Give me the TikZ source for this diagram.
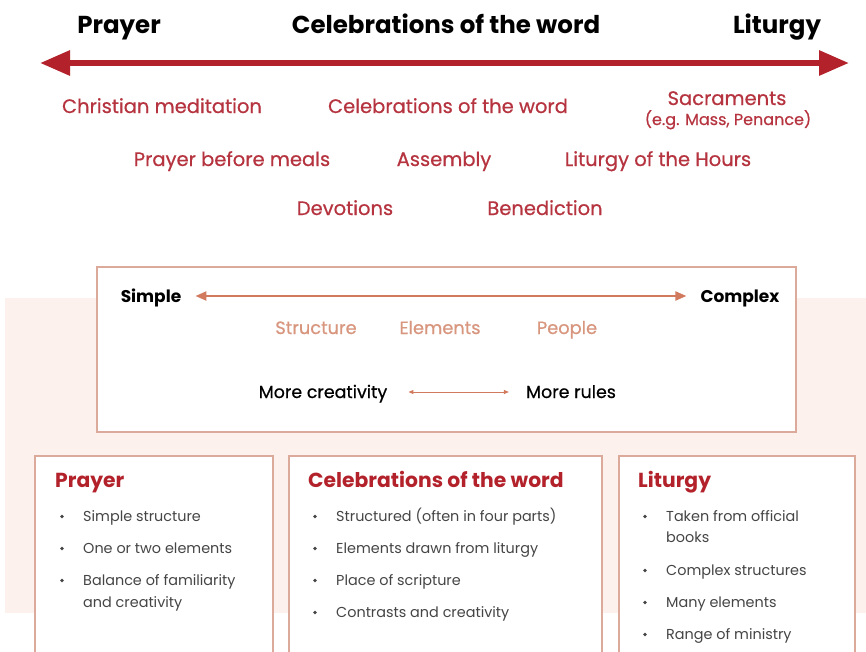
\documentclass[tikz,border=0pt]{standalone}
\usepackage{fontspec}
\setmainfont{Poppins}
\newfontfamily\popmedium[FakeBold=0.6]{Poppins}
\usetikzlibrary{arrows.meta,positioning}
\definecolor{deepred}{HTML}{B3222B}
\definecolor{itemred}{HTML}{B5343F}
\definecolor{salmon}{HTML}{D27A5E}
\definecolor{palesalmon}{HTML}{D8967E}
\definecolor{boxline}{HTML}{DCAA9A}
\definecolor{band}{HTML}{FDF1EE}
\definecolor{bodygray}{HTML}{454545}
\tikzset{%
  heading/.style={font=\bfseries\fontsize{24.5}{28}\selectfont, text=black, anchor=base, inner sep=0pt},
  practice/.style={font=\popmedium\fontsize{19.5}{23}\selectfont, text=itemred, anchor=base, inner sep=0pt},
  aspect/.style={font=\popmedium\fontsize{17.8}{21}\selectfont, text=palesalmon, anchor=base, inner sep=0pt},
  pole/.style={font=\bfseries\fontsize{17}{20}\selectfont, text=black, anchor=base, inner sep=0pt},
  tradeoff/.style={font=\popmedium\fontsize{17.4}{21}\selectfont, text=black, anchor=base, inner sep=0pt},
  boxtitle/.style={font=\bfseries\fontsize{20.3}{24}\selectfont, text=deepred, anchor=base west, inner sep=0pt},
  point/.style={font=\fontsize{14.4}{17}\selectfont, text=bodygray, anchor=base west, inner sep=0pt},
  dot/.style={circle, fill=bodygray, inner sep=0pt, minimum size=3.6pt},
  panel/.style={draw=boxline, line width=1.2pt, fill=white}
}

\begin{document}
\begin{tikzpicture}[x=1pt, y=-1pt]
\useasboundingbox (0,0) rectangle (866,651);

% background band and frames
\fill[band] (5,298) rectangle (866,613);
\draw[panel] (97,267) rectangle (796,432);
\draw[panel] (35,456) rectangle (273,680);
\draw[panel] (289,456) rectangle (602,680);
\draw[panel] (619,456) rectangle (855,680);

% the spectrum
\node[heading] (top-prayer) at (119,33) {Prayer};
\node[heading] (top-word) at (446,33) {Celebrations of the word};
\node[heading] (top-liturgy) at (777,33) {Liturgy};

\coordinate (spec-left) at (40,63);
\coordinate (spec-right) at (849,63);
\draw[deepred, line width=6pt, {Triangle[length=30pt, width=24pt]}-{Triangle[length=30pt, width=24pt]}] (spec-left) -- (spec-right);

\foreach \t/\x/\y [count=\i] in {Christian meditation/162/113, Celebrations of the word/448/113,
    Prayer before meals/232/166, Assembly/444/166, Liturgy of the Hours/658/166,
    Devotions/345/215, Benediction/545/215}
  \node[practice] (practice-\i) at (\x,\y) {\t};
\node[practice] (sacraments) at (727,105) {Sacraments};
\node[practice, font=\popmedium\fontsize{16}{19}\selectfont] (sacraments-eg) at (728,125) {(e.g. Mass, Penance)};

% simple -- complex
\node[pole] (simple) at (151,302) {Simple};
\node[pole] (complex) at (740,302) {Complex};
\draw[salmon, line width=2.2pt, {Triangle[length=11pt, width=9pt]}-{Triangle[length=11pt, width=9pt]}]
  ([xshift=14pt, yshift=6pt]simple.base east) -- ([xshift=-14pt, yshift=6pt]complex.base west);

\foreach \t/\x [count=\i] in {Structure/316, Elements/440, People/567}
  \node[aspect] (aspect-\i) at (\x,334) {\t};

\node[tradeoff] (creative) at (323,398) {More creativity};
\node[tradeoff] (rules) at (571,398) {More rules};
\draw[salmon, line width=1pt, {Triangle[length=5pt, width=4pt]}-{Triangle[length=5pt, width=4pt]}]
  ([xshift=21pt, yshift=6pt]creative.base east) -- ([xshift=-17pt, yshift=6pt]rules.base west);

% the three columns
\node[boxtitle] (prayer-title) at (55,487) {Prayer};
\foreach \y/\t/\b in {521/Simple structure/1, 553/One or two elements/1,
    585/Balance of familiarity/1, 607/and creativity/0} {
  \ifnum\b=1 \node[dot] (prayer-dot-\y) at (62,\y-4.5) {}; \fi
  \node[point] (prayer-\y) at (83,\y) {\t};
}

\node[boxtitle] (word-title) at (308,487) {Celebrations of the word};
\foreach \y/\t in {521/Structured (often in four parts), 553/Elements drawn from liturgy,
    585/Place of scripture, 617/Contrasts and creativity} {
  \node[dot] (word-dot-\y) at (315,\y-4.5) {};
  \node[point] (word-\y) at (336,\y) {\t};
}

\node[boxtitle] (liturgy-title) at (638,487) {Liturgy};
\foreach \y/\t/\b in {521/Taken from official/1, 542/books/0, 575/Complex structures/1,
    607/Many elements/1, 639/Range of ministry/1} {
  \ifnum\b=1 \node[dot] (liturgy-dot-\y) at (645,\y-4.5) {}; \fi
  \node[point] (liturgy-\y) at (666,\y) {\t};
}
\end{tikzpicture}
\end{document}
